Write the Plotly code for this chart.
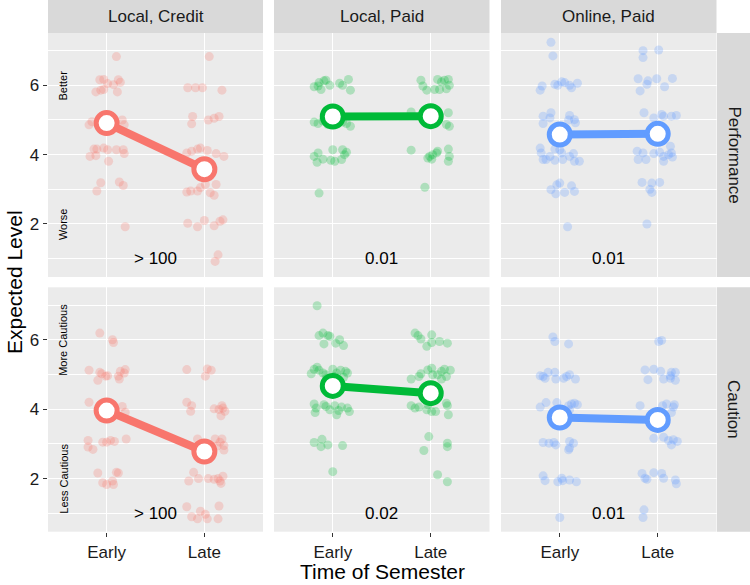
import plotly.graph_objects as go

# ---------------- data ----------------
time_labels = ["Early", "Late"]
column_labels = ["Local, Credit", "Local, Paid", "Online, Paid"]
row_labels = ["Performance", "Caution"]
group_colors = ["#F8766D", "#00BA38", "#619CFF"]

# Performance / Local, Credit
perf_cred_early_dx = [0.10, -0.07, -0.03, 0.01, 0.07, 0.12, 0.14, -0.11, -0.06, -0.03, 0.11, -0.18, -0.15, 0.16, 0.18,
                      -0.13, -0.10, -0.03, 0.01, 0.10, 0.17, 0.18, -0.17, -0.11, 0.02, -0.06, -0.10, 0.13, 0.17, 0.19]
perf_cred_early_y = [6.83, 6.16, 6.17, 6.05, 6.02, 6.16, 6.09, 5.81, 5.86, 5.88, 5.81, 4.86, 4.95, 5.00, 4.86,
                     4.16, 4.16, 4.19, 4.14, 4.14, 4.14, 4.03, 3.95, 3.97, 3.81, 3.19, 2.95, 3.21, 3.11, 1.92]
perf_cred_late_dx = [0.05, -0.17, -0.09, -0.02, 0.18, -0.12, -0.13, 0.04, 0.10, 0.15, -0.18, -0.13, -0.07, -0.04, 0.03,
                     0.12, 0.20, -0.18, -0.14, -0.07, -0.04, 0.01, 0.06, 0.10, 0.12, -0.17, -0.07, 0.00, 0.10, 0.16,
                     0.19, 0.14, 0.11]
perf_cred_late_y = [6.83, 5.93, 5.93, 5.93, 5.86, 5.10, 4.89, 5.00, 5.05, 5.10, 4.05, 4.10, 4.16, 4.19, 4.12,
                    4.03, 3.95, 2.92, 2.95, 2.95, 3.05, 3.14, 2.90, 2.83, 3.14, 2.02, 1.92, 2.10, 1.95, 2.08,
                    2.12, 1.11, 0.92]

# Performance / Local, Paid
perf_lpaid_early_dx = [-0.19, -0.15, -0.14, -0.09, -0.07, -0.03, 0.07, 0.10, 0.16, 0.18, -0.12, -0.19, -0.15, -0.10, -0.05,
                       0.10, 0.14, 0.18, -0.19, -0.15, -0.16, -0.10, -0.02, 0.02, 0.00, 0.10, 0.12, 0.09, 0.14, -0.14]
perf_lpaid_early_y = [5.96, 5.98, 6.08, 6.13, 6.15, 6.00, 6.06, 6.00, 6.17, 5.86, 5.88, 4.94, 4.90, 4.97, 4.87,
                      4.94, 4.90, 4.82, 3.95, 4.05, 3.78, 3.87, 3.84, 3.81, 4.14, 4.14, 4.00, 3.86, 4.07, 2.89]
perf_lpaid_late_dx = [-0.10, -0.08, -0.04, 0.07, 0.11, 0.14, 0.18, 0.04, 0.09, 0.16, 0.19, -0.20, 0.18, 0.16, 0.19,
                      -0.20, -0.01, 0.02, 0.06, 0.07, 0.01, 0.18, 0.19, 0.18, -0.03, -0.06]
perf_lpaid_late_y = [6.15, 5.98, 5.86, 6.17, 6.10, 6.15, 6.17, 5.88, 5.88, 5.90, 6.00, 5.23, 5.21, 4.87, 4.82,
                     4.13, 3.95, 4.00, 4.05, 4.10, 3.87, 4.16, 3.95, 3.81, 3.90, 3.06]

# Performance / Online, Paid
perf_opaid_early_dx = [-0.09, -0.07, -0.20, -0.18, -0.05, -0.02, 0.02, 0.05, 0.10, 0.12, 0.18, -0.17, -0.09, -0.17, 0.10,
                       0.09, 0.15, 0.16, -0.10, -0.20, -0.19, -0.17, -0.14, -0.10, -0.05, 0.00, 0.02, 0.03, 0.10, 0.14,
                       0.15, 0.20, -0.05, -0.09, -0.03, 0.00, -0.04, 0.05, 0.12, 0.15, 0.08]
perf_opaid_early_y = [7.24, 6.85, 5.86, 5.98, 6.03, 6.00, 6.10, 6.08, 6.00, 5.93, 6.06, 5.11, 5.21, 4.90, 5.13,
                      5.00, 5.01, 4.92, 5.06, 4.19, 4.05, 3.86, 3.86, 3.95, 3.84, 4.14, 4.05, 3.86, 3.95, 4.03,
                      3.81, 3.81, 4.16, 2.99, 3.13, 3.18, 2.87, 2.91, 3.10, 2.94, 1.92]
perf_opaid_late_dx = [-0.15, 0.01, -0.15, -0.20, -0.10, -0.01, -0.18, 0.07, 0.15, -0.11, -0.14, -0.04, 0.06, 0.14, 0.19,
                      0.04, -0.21, -0.20, -0.15, -0.12, -0.04, 0.02, 0.06, 0.06, 0.11, 0.14, 0.15, 0.13, -0.16, -0.08,
                      -0.06, 0.02, -0.06, -0.11]
perf_opaid_late_y = [7.00, 7.02, 6.80, 6.19, 6.13, 6.19, 5.84, 5.96, 6.20, 6.03, 5.21, 5.06, 5.11, 5.11, 5.13,
                     5.16, 4.10, 3.86, 4.05, 3.86, 4.03, 4.07, 3.95, 3.81, 4.00, 4.05, 3.93, 4.24, 3.20, 3.00,
                     2.91, 3.20, 3.18, 2.00]

# Caution / Local, Credit
caut_cred_early_dx = [-0.07, 0.06, 0.07, -0.18, -0.07, -0.05, -0.09, -0.01, 0.01, 0.13, 0.12, 0.14, 0.19, 0.18, -0.18,
                      -0.06, 0.16, 0.19, -0.19, -0.19, -0.14, -0.04, 0.00, 0.04, 0.08, 0.20, -0.09, 0.10, 0.12, -0.04,
                      0.00, 0.06, 0.07]
caut_cred_early_y = [6.19, 6.00, 5.92, 5.12, 5.06, 5.02, 4.83, 4.95, 4.96, 4.87, 4.95, 5.09, 5.14, 5.04, 4.20,
                     4.08, 4.08, 3.91, 3.10, 2.91, 2.84, 3.05, 3.05, 3.10, 3.07, 3.14, 2.16, 2.18, 2.16, 1.88,
                     1.83, 1.93, 1.83]
caut_cred_late_dx = [-0.18, 0.03, 0.07, 0.01, -0.18, -0.13, -0.14, 0.10, 0.15, 0.18, 0.17, 0.21, 0.19, -0.07, 0.11,
                     0.16, 0.18, 0.20, 0.20, 0.13, -0.11, -0.16, -0.06, 0.04, 0.10, 0.14, 0.16, 0.19, 0.17, -0.18,
                     -0.13, -0.07, -0.04, 0.01, 0.03, 0.15, 0.14]
caut_cred_late_y = [5.14, 5.16, 5.12, 4.95, 4.20, 4.10, 3.94, 4.01, 3.99, 4.10, 3.81, 3.94, 4.03, 3.14, 3.14,
                    3.05, 3.14, 2.95, 2.82, 2.94, 2.18, 1.93, 2.00, 2.00, 1.98, 2.00, 1.93, 2.07, 1.86, 1.19,
                    0.90, 0.84, 1.06, 0.97, 0.84, 1.21, 0.84]

# Caution / Local, Paid
caut_lpaid_early_dx = [-0.16, -0.14, -0.10, -0.05, -0.09, 0.03, 0.07, 0.11, -0.03, -0.19, -0.16, -0.14, -0.22, -0.10, -0.07,
                       0.00, 0.04, 0.08, 0.13, 0.15, 0.11, 0.02, -0.06, -0.19, -0.17, -0.18, -0.09, -0.07, 0.02, 0.06,
                       0.04, 0.09, 0.15, 0.17, -0.03, -0.19, -0.11, -0.12, -0.05, 0.10, 0.00]
caut_lpaid_early_y = [6.98, 6.12, 6.19, 6.12, 5.88, 5.90, 6.00, 5.83, 6.10, 5.15, 5.21, 5.12, 5.02, 5.04, 4.99,
                      5.15, 5.04, 5.12, 5.09, 5.04, 4.92, 4.94, 4.89, 4.15, 4.03, 3.90, 4.13, 4.08, 4.10, 3.96,
                      3.84, 4.06, 4.03, 3.93, 3.98, 3.04, 3.13, 2.92, 2.97, 2.95, 2.20]
caut_lpaid_late_dx = [-0.16, -0.13, -0.10, 0.01, -0.04, 0.01, 0.09, 0.17, -0.20, -0.12, -0.10, -0.03, 0.01, 0.02, 0.11,
                      0.14, 0.20, 0.16, 0.11, 0.07, -0.20, -0.16, -0.12, -0.03, -0.04, 0.01, 0.05, 0.16, 0.17, 0.18,
                      -0.02, -0.07, 0.17, 0.17, 0.07, 0.17]
caut_lpaid_late_y = [6.19, 6.12, 6.02, 6.14, 5.81, 5.92, 5.95, 5.90, 4.87, 4.94, 5.02, 5.13, 5.18, 4.99, 5.09,
                     5.15, 5.12, 4.94, 4.87, 4.99, 4.10, 4.03, 4.06, 4.13, 3.98, 3.93, 3.93, 4.17, 4.10, 3.84,
                     3.21, 2.81, 3.02, 2.92, 2.11, 1.91]

# Caution / Online, Paid
caut_opaid_early_dx = [-0.07, -0.05, 0.09, -0.20, -0.17, -0.15, -0.12, -0.05, -0.04, 0.04, 0.10, 0.16, 0.07, -0.20, -0.14,
                       -0.03, 0.09, 0.12, 0.15, 0.18, 0.10, -0.17, -0.11, -0.06, -0.04, 0.10, 0.14, 0.09, 0.10, -0.17,
                       -0.15, -0.02, 0.02, 0.03, 0.10, 0.17, 0.00]
caut_opaid_early_y = [6.08, 5.95, 5.88, 4.96, 4.94, 4.89, 5.06, 5.06, 4.87, 4.89, 4.99, 4.87, 4.94, 4.06, 4.19,
                      4.19, 4.10, 4.15, 4.17, 4.13, 3.98, 3.04, 3.02, 3.04, 2.97, 3.07, 3.02, 2.83, 2.88, 2.08,
                      1.94, 1.91, 2.01, 1.94, 1.96, 1.91, 0.88]
caut_opaid_late_dx = [0.01, 0.04, -0.13, -0.10, -0.04, 0.03, 0.06, 0.14, 0.18, 0.13, 0.18, 0.13, -0.18, 0.05, 0.09,
                      0.16, 0.14, 0.17, -0.04, 0.06, 0.11, 0.14, 0.16, 0.20, -0.16, -0.13, -0.11, -0.04, 0.04, 0.06,
                      0.18, 0.19, -0.14, -0.15]
caut_opaid_late_y = [5.95, 5.98, 5.13, 4.85, 5.15, 5.09, 4.87, 5.06, 5.06, 4.89, 4.83, 4.96, 4.10, 4.10, 4.15,
                     4.06, 3.90, 4.13, 3.16, 3.19, 3.10, 2.97, 3.12, 3.07, 2.15, 2.01, 1.98, 2.17, 2.15, 2.01,
                     1.96, 1.85, 1.10, 0.88]

# group means (Early, Late) per column
perf_means = [[4.91, 3.58], [5.10, 5.11], [4.58, 4.60]]
caut_means = [[3.96, 2.78], [4.67, 4.46], [3.76, 3.69]]

# Bayes factor labels per panel
bf_perf = ["> 100", "0.01", "0.01"]
bf_caut = ["> 100", "0.02", "0.01"]

# axis-side descriptors
perf_side_labels = ["Better", "Worse"]
caut_side_labels = ["More Cautious", "Less Cautious"]
side_label_levels = [6, 2]
y_ticks = [2, 4, 6]
y_minor = [1, 3, 5, 7]

# ---------------- figure ----------------
W, H = 750, 585
col_px = [(48, 263), (274, 489.5), (501, 716.5)]
row_px = [(33, 277), (287.3, 531.7)]
strip_top = (0, 33)
strip_right = (717, 750)

def px_x(p):
    return p / W

def px_y(p):
    return 1 - p / H

panel_obs = [
    [(perf_cred_early_dx, perf_cred_early_y, perf_cred_late_dx, perf_cred_late_y),
     (perf_lpaid_early_dx, perf_lpaid_early_y, perf_lpaid_late_dx, perf_lpaid_late_y),
     (perf_opaid_early_dx, perf_opaid_early_y, perf_opaid_late_dx, perf_opaid_late_y)],
    [(caut_cred_early_dx, caut_cred_early_y, caut_cred_late_dx, caut_cred_late_y),
     (caut_lpaid_early_dx, caut_lpaid_early_y, caut_lpaid_late_dx, caut_lpaid_late_y),
     (caut_opaid_early_dx, caut_opaid_early_y, caut_opaid_late_dx, caut_opaid_late_y)],
]
means = [perf_means, caut_means]
bfs = [bf_perf, bf_caut]

fig = go.Figure()
layout = {}
annotations = []
shapes = []

FONT = "Liberation Sans, Arial, Helvetica, sans-serif"
TXT = "#1A1A1A"

for r in range(2):
    for c in range(3):
        k = r * 3 + c
        sfx = "" if k == 0 else str(k + 1)
        xa, ya = "x" + sfx, "y" + sfx
        col = group_colors[c]
        edx, ey, ldx, ly = panel_obs[r][c]
        xs = [1 + d for d in edx] + [2 + d for d in ldx]
        ys = list(ey) + list(ly)
        fig.add_trace(go.Scatter(x=xs, y=ys, mode="markers", xaxis=xa, yaxis=ya,
                                 marker=dict(size=9, color=col, opacity=0.26, line=dict(width=0)),
                                 showlegend=False, hoverinfo="skip"))
        fig.add_trace(go.Scatter(x=[1, 2], y=means[r][c], mode="lines+markers", xaxis=xa, yaxis=ya,
                                 line=dict(color=col, width=8),
                                 marker=dict(size=21, color="white", line=dict(color=col, width=5)),
                                 showlegend=False, hoverinfo="skip"))
        x0, x1 = col_px[c]
        y0, y1 = row_px[r]
        layout["xaxis" + sfx] = dict(
            domain=[px_x(x0), px_x(x1)], anchor=ya, range=[0.4, 2.6],
            tickvals=[1, 2], ticktext=time_labels if r == 1 else ["", ""],
            showticklabels=(r == 1), ticks="outside" if r == 1 else "",
            ticklen=4.5, tickwidth=1.3, tickcolor="#333333",
            showgrid=True, gridcolor="white", gridwidth=1.3, zeroline=False, showline=False,
            tickfont=dict(family=FONT, size=17, color=TXT), fixedrange=True)
        layout["yaxis" + sfx] = dict(
            domain=[px_y(y1), px_y(y0)], anchor=xa, range=[0.47, 7.51],
            tickvals=y_ticks, showticklabels=(c == 0), ticks="outside" if c == 0 else "",
            ticklen=4.5, tickwidth=1.3, tickcolor="#333333",
            showgrid=True, gridcolor="white", gridwidth=1.3, zeroline=False, showline=False,
            minor=dict(tickvals=y_minor, showgrid=True, gridcolor="white", gridwidth=0.6, ticks=""),
            tickfont=dict(family=FONT, size=17, color=TXT), fixedrange=True)
        annotations.append(dict(x=1.5, y=1, xref=xa, yref=ya, text=bfs[r][c], showarrow=False,
                                font=dict(family=FONT, size=17, color="black")))

# side labels in left column
for r, labs in enumerate([perf_side_labels, caut_side_labels]):
    sfx = "" if r == 0 else "4"
    for lab, lev in zip(labs, side_label_levels):
        annotations.append(dict(x=0.555, y=lev, xref="x" + sfx, yref="y" + sfx, text=lab,
                                textangle=-90, showarrow=False,
                                font=dict(family=FONT, size=11, color="black")))

# strips
for c in range(3):
    x0, x1 = col_px[c]
    shapes.append(dict(type="rect", xref="paper", yref="paper", x0=px_x(x0), x1=px_x(x1),
                       y0=px_y(strip_top[1]), y1=px_y(strip_top[0]), fillcolor="#D9D9D9",
                       line=dict(width=0), layer="below"))
    annotations.append(dict(x=px_x((x0 + x1) / 2), y=px_y(sum(strip_top) / 2), xref="paper", yref="paper",
                            text=column_labels[c], showarrow=False, xanchor="center", yanchor="middle",
                            font=dict(family=FONT, size=17, color=TXT)))
for r in range(2):
    y0, y1 = row_px[r]
    shapes.append(dict(type="rect", xref="paper", yref="paper", x0=px_x(strip_right[0]), x1=px_x(strip_right[1]),
                       y0=px_y(y1), y1=px_y(y0), fillcolor="#D9D9D9", line=dict(width=0), layer="below"))
    annotations.append(dict(x=px_x(sum(strip_right) / 2), y=px_y((y0 + y1) / 2), xref="paper", yref="paper",
                            text=row_labels[r], showarrow=False, textangle=90, xanchor="center", yanchor="middle",
                            font=dict(family=FONT, size=17, color=TXT)))

# axis titles
annotations.append(dict(x=px_x(382), y=px_y(571), xref="paper", yref="paper", text="Time of Semester",
                        showarrow=False, xanchor="center", yanchor="middle",
                        font=dict(family=FONT, size=21, color="black")))
annotations.append(dict(x=px_x(14), y=px_y(282), xref="paper", yref="paper", text="Expected Level",
                        showarrow=False, textangle=-90, xanchor="center", yanchor="middle",
                        font=dict(family=FONT, size=21, color="black")))

fig.update_layout(width=W, height=H, margin=dict(l=0, r=0, t=0, b=0),
                  paper_bgcolor="white", plot_bgcolor="#EBEBEB",
                  annotations=annotations, shapes=shapes, showlegend=False, **layout)

fig.write_html("out.html")
